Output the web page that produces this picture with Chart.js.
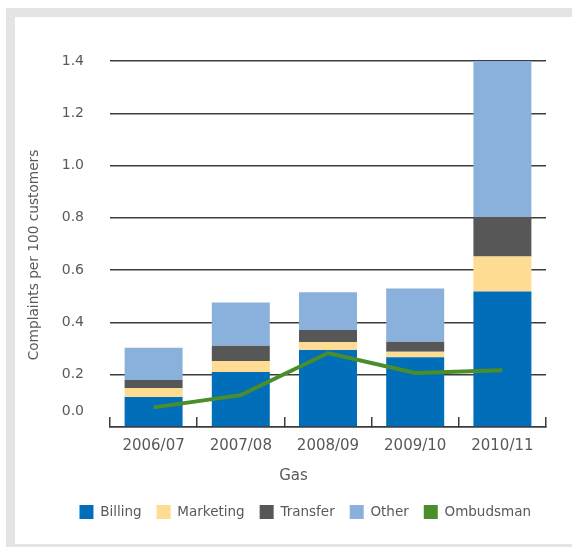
<!DOCTYPE html>
<html>
<head>
<meta charset="utf-8">
<script src="https://cdn.jsdelivr.net/npm/chart.js@4.4.1/dist/chart.umd.min.js"></script>
<style>
  html, body { margin: 0; padding: 0; background: #fff; }
  .frame { position: absolute; left: 6px; top: 8px; width: 566px; height: 539px; background: #e3e4e3; }
  .panel { position: absolute; left: 15px; top: 17px; width: 557px; height: 527px; background: #fff; }
  .chart-box { position: absolute; left: 15px; top: 17px; width: 557px; height: 527px; }
</style>
</head>
<body>
<div class="frame"></div>
<div class="panel"></div>
<div class="chart-box"><canvas id="gas-complaints"></canvas></div>
<script>
// complaints per 100 customers, gas
const years      = ['2006/07', '2007/08', '2008/09', '2009/10', '2010/11'];
const billing    = [0.115, 0.210, 0.295, 0.267, 0.518];
const marketing  = [0.034, 0.042, 0.030, 0.021, 0.134];
const transfer   = [0.031, 0.059, 0.046, 0.038, 0.151];
const other      = [0.123, 0.165, 0.144, 0.204, 0.600];
const ombudsman  = [0.075, 0.122, 0.283, 0.207, 0.217];
const yTicks     = [0, 0.2, 0.4, 0.6, 0.8, 1.0, 1.2, 1.4];
const yTitle     = 'Complaints per 100 customers';

const TEXT = '#595959';
const RULE = '#3c3c3c';
Chart.defaults.font.family = "'DejaVu Sans', sans-serif";
Chart.defaults.color = TEXT;

function barSet(label, data, color) {
  return {
    type: 'bar',
    label,
    data,
    backgroundColor: color,
    borderWidth: 0,
    stack: 'gas',
    order: 1,
    barPercentage: 0.665,
    categoryPercentage: 1
  };
}

// rotated y title, sitting a little below the middle of the plot
const yTitlePlugin = {
  id: 'yTitle',
  afterDraw(chart) {
    const { ctx, chartArea } = chart;
    const midY = (chartArea.top + chartArea.bottom) / 2 + 11;
    ctx.save();
    ctx.translate(19, midY);
    ctx.rotate(-Math.PI / 2);
    ctx.font = "13.7px 'DejaVu Sans', sans-serif";
    ctx.fillStyle = TEXT;
    ctx.textAlign = 'center';
    ctx.textBaseline = 'middle';
    ctx.fillText(yTitle, 0, 0);
    ctx.restore();
  }
};

const ctx = document.getElementById('gas-complaints');

new Chart(ctx, {
  data: {
    labels: years,
    datasets: [
      barSet('Billing', billing, '#006eb8'),
      barSet('Marketing', marketing, '#fedc94'),
      barSet('Transfer', transfer, '#575757'),
      barSet('Other', other, '#8ab0dc'),
      {
        type: 'line',
        label: 'Ombudsman',
        data: ombudsman,
        borderColor: '#4a8e2a',
        backgroundColor: '#4a8e2a',
        borderWidth: 4,
        pointRadius: 0,
        tension: 0,
        stack: 'ombudsman',
        order: 0
      }
    ]
  },
  plugins: [yTitlePlugin],
  options: {
    responsive: true,
    maintainAspectRatio: false,
    animation: false,
    layout: { padding: { left: 26, right: 26, top: 44, bottom: 15 } },
    plugins: {
      tooltip: { enabled: false },
      title: {
        display: true,
        text: 'Gas',
        position: 'bottom',
        weight: 100,
        color: TEXT,
        font: { size: 15, weight: 'normal' },
        padding: { top: 2, bottom: 5 }
      },
      legend: {
        position: 'bottom',
        align: 'end',
        labels: {
          boxWidth: 14,
          boxHeight: 14,
          padding: 15,
          color: TEXT,
          font: { size: 13.5 },
          sort: (a, b) => a.datasetIndex - b.datasetIndex,
          generateLabels: chart =>
            Chart.defaults.plugins.legend.labels.generateLabels(chart)
              .map(item => ({ ...item, lineWidth: 0 }))
        }
      }
    },
    scales: {
      x: {
        stacked: true,
        grid: {
          drawOnChartArea: false,
          drawTicks: true,
          tickLength: -10,
          color: RULE,
          lineWidth: 1.5
        },
        border: { display: true, color: RULE, width: 1.5 },
        ticks: { autoSkip: false, maxRotation: 0, padding: 20, color: TEXT, font: { size: 15 } },
        afterFit: scale => { scale.height = 38; }
      },
      y: {
        stacked: true,
        min: 0,
        max: 1.4,
        afterBuildTicks: scale => { scale.ticks = yTicks.map(v => ({ value: v })); },
        grid: { drawTicks: false, color: RULE, lineWidth: 1.5 },
        border: { display: false },
        ticks: {
          autoSkip: false,
          padding: 26,
          color: TEXT,
          font: c => ({ size: 14, lineHeight: c.tick && c.tick.value === 0 ? '32px' : 1.2 }),
          // the zero label sits above the baseline
          callback: v => (v === 0 ? ['0.0', ''] : Number(v).toFixed(1))
        },
        afterFit: scale => { scale.width = 69; }
      }
    }
  }
});
</script>
</body>
</html>
